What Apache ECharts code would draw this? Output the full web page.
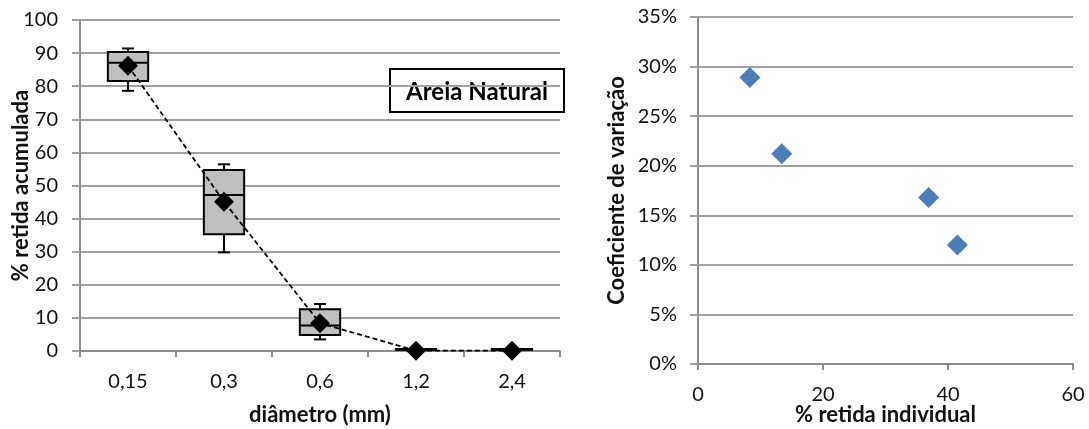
<!DOCTYPE html>
<html><head><meta charset="utf-8">
<script src="https://cdn.jsdelivr.net/npm/echarts@6/dist/echarts.min.js"></script>
<style>html,body{margin:0;padding:0;background:#fff}#c{width:1089px;height:429px}</style>
</head><body><div id="c"></div>
<script>
// Left chart: box plots of % retida acumulada by diâmetro
const categories = ['0,15', '0,3', '0,6', '1,2', '2,4'];
const whiskerMin = [78.6, 29.8, 3.5, 0.3, 0.3];
const quartile1  = [81.6, 35.3, 4.8, 0.4, 0.4];
const medians    = [87.1, 47.1, 7.7, 0.5, 0.5];
const quartile3  = [90.3, 54.7, 12.6, 0.6, 0.6];
const whiskerMax = [91.4, 56.4, 14.2, 0.7, 0.7];
const means      = [86.2, 45.1, 8.4, 0.1, 0.1];
const leftYTicks = { min: 0, max: 100, interval: 10 };

// Right chart: coeficiente de variação vs % retida individual
const retidaIndividual = [8.3, 13.4, 36.9, 41.5];
const coefVariacao     = [0.289, 0.212, 0.168, 0.120];
const rightXTicks = { min: 0, max: 60, interval: 20 };
const rightYTicks = { min: 0, max: 0.35, interval: 0.05 };

const FONT = 'Lato';
const txt = '#111';
const gridColor = '#a0a0a0';
const axisColor = '#8c8c8c';

const boxData = categories.map((c, i) => [i, whiskerMin[i], quartile1[i], medians[i], quartile3[i], whiskerMax[i]]);

const chart = echarts.init(document.getElementById('c'), null, { renderer: 'canvas' });

const axisLabel = { color: txt, fontFamily: FONT, fontSize: 20 };
const nameStyle = { color: txt, fontFamily: FONT, fontSize: 22, fontWeight: 'bold' };

chart.setOption({
  animation: false,
  textStyle: { fontFamily: FONT },
  grid: [
    { left: 80, top: 20, width: 480, height: 331, containLabel: false, outerBoundsMode: 'none' },
    { left: 698, top: 17, width: 375, height: 347, containLabel: false, outerBoundsMode: 'none' }
  ],
  xAxis: [
    {
      gridIndex: 0, type: 'category', data: categories, boundaryGap: true,
      axisLine: { lineStyle: { color: axisColor, width: 2 } },
      axisTick: { show: true, length: 6, lineStyle: { color: axisColor, width: 2 } },
      axisLabel: Object.assign({ margin: 21 }, axisLabel),
      name: 'diâmetro (mm)', nameLocation: 'middle', nameGap: 53, nameMoveOverlap: false, nameTextStyle: nameStyle,
      splitLine: { show: false }
    },
    {
      gridIndex: 1, type: 'value', min: rightXTicks.min, max: rightXTicks.max, interval: rightXTicks.interval,
      axisLine: { show: true, lineStyle: { color: axisColor, width: 2 } },
      axisTick: { show: true, length: 6, lineStyle: { color: axisColor, width: 2 } },
      axisLabel: Object.assign({ margin: 21 }, axisLabel),
      name: '% retida individual', nameLocation: 'middle', nameGap: 40, nameMoveOverlap: false, nameTextStyle: nameStyle,
      splitLine: { show: false }
    }
  ],
  yAxis: [
    {
      gridIndex: 0, type: 'value', min: leftYTicks.min, max: leftYTicks.max, interval: leftYTicks.interval,
      axisLine: { show: true, lineStyle: { color: axisColor, width: 2 } },
      axisTick: { show: true, length: 8, lineStyle: { color: gridColor, width: 2 } },
      axisLabel: Object.assign({ margin: 22 }, axisLabel),
      splitLine: { show: true, lineStyle: { color: gridColor, width: 2 } },
      name: '% retida acumulada', nameLocation: 'middle', nameGap: 48, nameMoveOverlap: false, nameTextStyle: nameStyle
    },
    {
      gridIndex: 1, type: 'value', min: rightYTicks.min, max: rightYTicks.max, interval: rightYTicks.interval,
      axisLine: { show: true, lineStyle: { color: axisColor, width: 2 } },
      axisTick: { show: true, length: 8, lineStyle: { color: gridColor, width: 2 } },
      axisLabel: Object.assign({ margin: 21, formatter: v => Math.round(v * 100) + '%' }, axisLabel),
      splitLine: { show: true, lineStyle: { color: gridColor, width: 2 } },
      name: 'Coeficiente de variação', nameLocation: 'middle', nameGap: 70, nameMoveOverlap: false, nameTextStyle: nameStyle
    }
  ],
  series: [
    {
      type: 'custom', xAxisIndex: 0, yAxisIndex: 0, data: boxData, z: 2,
      renderItem: function (params, api) {
        const x = api.value(0);
        const lo = api.coord([x, api.value(1)]);
        const a = api.coord([x, api.value(2)]);
        const m = api.coord([x, api.value(3)]);
        const b = api.coord([x, api.value(4)]);
        const hi = api.coord([x, api.value(5)]);
        const bw = api.size([1, 0])[0] * 0.42;
        const cw = 12;
        const cx = m[0];
        const ls = { stroke: '#000', lineWidth: 2 };
        return {
          type: 'group',
          children: [
            { type: 'line', shape: { x1: cx, y1: hi[1], x2: cx, y2: b[1] }, style: ls },
            { type: 'line', shape: { x1: cx, y1: a[1], x2: cx, y2: lo[1] }, style: ls },
            { type: 'line', shape: { x1: cx - cw / 2, y1: hi[1], x2: cx + cw / 2, y2: hi[1] }, style: ls },
            { type: 'line', shape: { x1: cx - cw / 2, y1: lo[1], x2: cx + cw / 2, y2: lo[1] }, style: ls },
            { type: 'rect', shape: { x: cx - bw / 2, y: b[1], width: bw, height: a[1] - b[1] },
              style: { fill: '#bfbfbf', stroke: '#000', lineWidth: 2 } },
            { type: 'line', shape: { x1: cx - bw / 2, y1: m[1], x2: cx + bw / 2, y2: m[1] },
              style: { stroke: '#000', lineWidth: 2 } }
          ]
        };
      }
    },
    {
      type: 'line', xAxisIndex: 0, yAxisIndex: 0, data: means, z: 3,
      symbol: 'none', lineStyle: { color: '#000', width: 1.8, type: [5, 3] }
    },
    {
      type: 'scatter', xAxisIndex: 0, yAxisIndex: 0, data: means, z: 4,
      symbol: 'diamond', symbolSize: [20, 20], itemStyle: { color: '#000', opacity: 1 }
    },
    {
      type: 'scatter', xAxisIndex: 1, yAxisIndex: 1, z: 4,
      data: retidaIndividual.map((v, i) => [v, coefVariacao[i]]),
      symbol: 'diamond', symbolSize: [21, 21], itemStyle: { color: '#4a7ebb', opacity: 1 }
    }
  ],
  graphic: [
    {
      type: 'group', left: 389, top: 68,
      children: [
        { type: 'rect', shape: { x: 0, y: 0, width: 174, height: 43 },
          style: { fill: '#fff', stroke: '#000', lineWidth: 2 } },
        { type: 'text', x: 87, y: 23,
          style: { text: 'Areia Natural', fontFamily: FONT, fontSize: 24, fontWeight: 'bold',
                   fill: '#000', textAlign: 'center', textVerticalAlign: 'middle' } }
      ]
    }
  ]
});
</script>
</body></html>
